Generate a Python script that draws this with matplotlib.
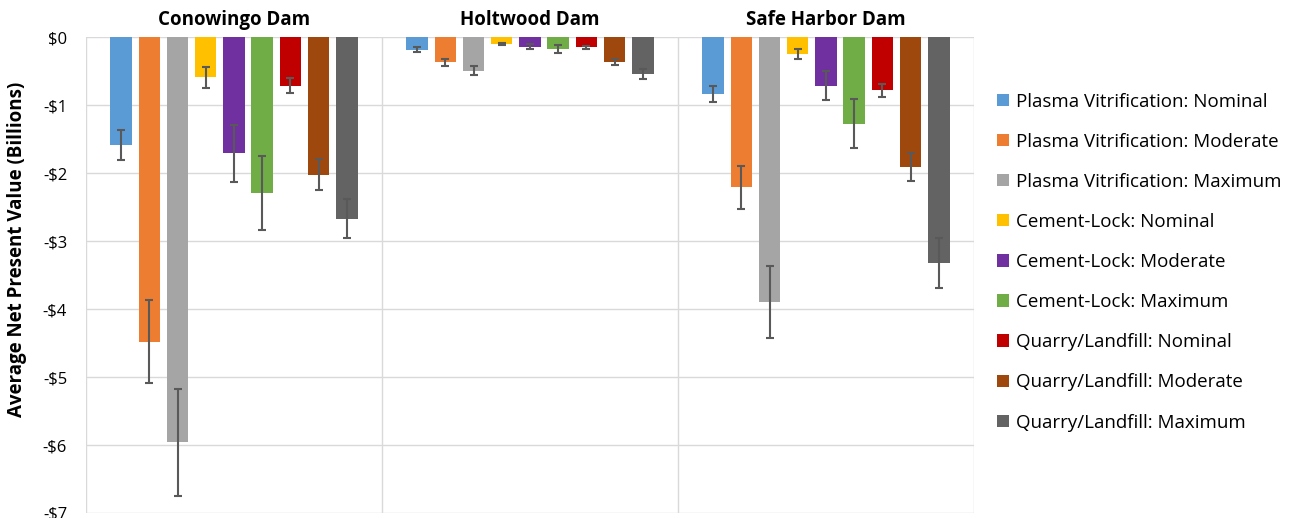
import numpy as np
import matplotlib.pyplot as plt

plt.rcParams['font.family'] = ['Open Sans', 'DejaVu Sans']

dams = ['Conowingo Dam', 'Holtwood Dam', 'Safe Harbor Dam']
scenarios = ['Plasma Vitrification: Nominal', 'Plasma Vitrification: Moderate',
             'Plasma Vitrification: Maximum', 'Cement-Lock: Nominal',
             'Cement-Lock: Moderate', 'Cement-Lock: Maximum',
             'Quarry/Landfill: Nominal', 'Quarry/Landfill: Moderate',
             'Quarry/Landfill: Maximum']
colors = ['#5B9BD5', '#ED7D31', '#A5A5A5', '#FFC000', '#7030A0',
          '#70AD47', '#C00000', '#9E480E', '#636363']

# mean NPV (billions), one list per scenario: [Conowingo, Holtwood, Safe Harbor]
npv = [
    [-1.58, -0.18, -0.83],
    [-4.48, -0.37, -2.21],
    [-5.96, -0.49, -3.89],
    [-0.59, -0.10, -0.25],
    [-1.71, -0.14, -0.71],
    [-2.29, -0.17, -1.27],
    [-0.71, -0.15, -0.78],
    [-2.02, -0.37, -1.91],
    [-2.67, -0.54, -3.32],
]
# error bar half widths
err = [
    [0.22, 0.03, 0.12],
    [0.61, 0.05, 0.31],
    [0.79, 0.065, 0.53],
    [0.15, 0.01, 0.075],
    [0.42, 0.035, 0.21],
    [0.54, 0.055, 0.36],
    [0.11, 0.02, 0.10],
    [0.23, 0.045, 0.21],
    [0.29, 0.07, 0.37],
]

fig = plt.figure(figsize=(13.08, 5.18), dpi=100)
ax = fig.add_axes([0.0657, 0.0097, 0.6789, 0.9183])

step = 0.0953
width = 0.0726
centers = np.arange(len(dams)) + 0.5
for i, s in enumerate(scenarios):
    xpos = centers + (i - 4) * step
    ax.bar(xpos, npv[i], width, color=colors[i], label=s, zorder=3)
    ax.errorbar(xpos, npv[i], yerr=err[i], fmt='none', ecolor='#595959',
                elinewidth=1.5, capsize=3, capthick=1.5, zorder=4)

ax.set_xlim(0, 3)
ax.set_ylim(-7, 0)
ax.set_yticks(range(-7, 1))
ax.set_yticklabels(['$0' if v == 0 else '-$%d' % -v for v in range(-7, 1)], fontsize=12)
ax.tick_params(axis='y', length=0, pad=13.5)
ax.set_xticks([])
for v in range(-7, 1):
    ax.axhline(v, color='#D9D9D9', lw=1, zorder=1)
for x in [0, 1, 2, 3]:
    ax.axvline(x, color='#D9D9D9', lw=1, zorder=1)
for sp in ax.spines.values():
    sp.set_visible(False)

for c, d in zip(centers, dams):
    ax.text(c, 0.25, d, ha='center', va='center', fontsize=13.5, fontweight='bold')

ax.set_ylabel('Average Net Present Value (Billions)', fontsize=13.5, fontweight='bold')
ax.yaxis.set_label_coords(-0.066, 0.555)

fig.legend(loc='upper left', bbox_to_anchor=(0.7495, 0.854), frameon=False,
           fontsize=13.5, handlelength=0.64, handleheight=0.64, handletextpad=0.37,
           labelspacing=1.18)

fig.savefig('out.png', dpi=100)
